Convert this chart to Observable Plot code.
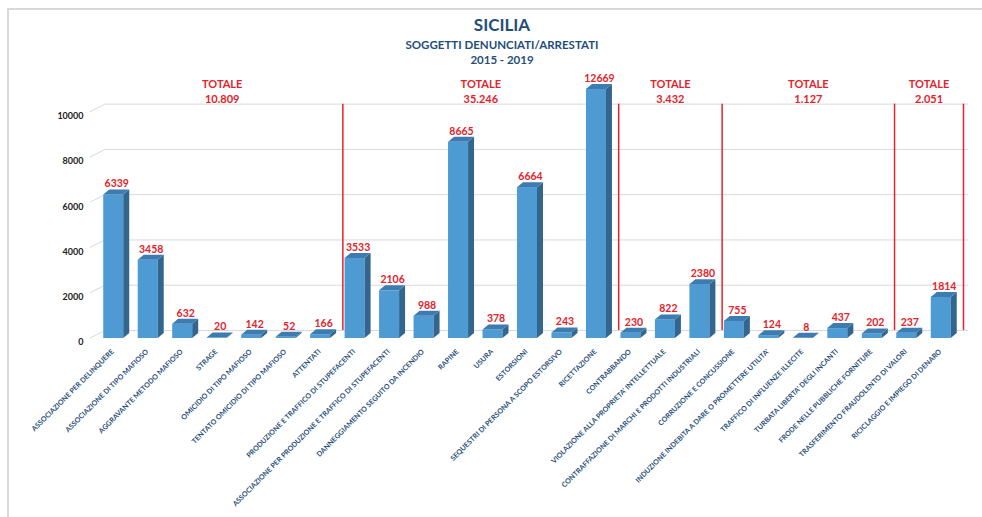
<!DOCTYPE html>
<html>
<head>
<meta charset="utf-8">
<script src="https://cdn.jsdelivr.net/npm/d3@7"></script>
<script src="https://cdn.jsdelivr.net/npm/@observablehq/plot@0.6"></script>
<style>
  body { margin: 0; background: #fff; font-family: Lato, "Open Sans", sans-serif; }
  #wrap { position: relative; width: 982px; height: 517px; overflow: hidden; }
  #frame { position: absolute; left: 7px; top: 8px; right: -5px; bottom: -5px; border-top: 2px solid #d9d9d9; border-left: 2px solid #d9d9d9; pointer-events: none; }
  #head { position: relative; height: 72px; color: #1f4e79; font-weight: bold; }
  #head div { position: absolute; left: 22px; right: 0; text-align: center; line-height: 1; }
  #t1 { top: 16px; font-size: 17px; }
  #t2 { top: 39px; font-size: 11.5px; }
  #t3 { top: 54px; font-size: 11.5px; }
</style>
</head>
<body>
<div id="wrap">
  <div id="head">
    <div id="t1">SICILIA</div>
    <div id="t2">SOGGETTI DENUNCIATI/ARRESTATI</div>
    <div id="t3">2015 - 2019</div>
  </div>
  <div id="chart"></div>
  <div id="frame"></div>
</div>
<script>
const categories = [
  "ASSOCIAZIONE PER DELINQUERE",
  "ASSOCIAZIONE DI TIPO MAFIOSO",
  "AGGRAVANTE METODO MAFIOSO",
  "STRAGE",
  "OMICIDIO DI TIPO MAFIOSO",
  "TENTATO OMICIDIO DI TIPO MAFIOSO",
  "ATTENTATI",
  "PRODUZIONE E TRAFFICO DI STUPEFACENTI",
  "ASSOCIAZIONE PER PRODUZIONE E TRAFFICO DI STUPEFACENTI",
  "DANNEGGIAMENTO SEGUITO DA INCENDIO",
  "RAPINE",
  "USURA",
  "ESTORSIONI",
  "SEQUESTRI DI PERSONA A SCOPO ESTORSIVO",
  "RICETTAZIONE",
  "CONTRABBANDO",
  "VIOLAZIONE ALLA PROPRIETA' INTELLETTUALE",
  "CONTRAFFAZIONE DI MARCHI E PRODOTTI INDUSTRIALI",
  "CORRUZIONE E CONCUSSIONE",
  "INDUZIONE INDEBITA A DARE O PROMETTERE UTILITA'",
  "TRAFFICO DI INFLUENZE ILLECITE",
  "TURBATA LIBERTA' DEGLI INCANTI",
  "FRODE NELLE PUBBLICHE FORNITURE",
  "TRASFERIMENTO FRAUDOLENTO DI VALORI",
  "RICICLAGGIO E IMPIEGO DI DENARO"
];
const values = [6339, 3458, 632, 20, 142, 52, 166, 3533, 2106, 988, 8665, 378, 6664, 243, 12669, 230, 822, 2380, 755, 124, 8, 437, 202, 237, 1814];
const groupSizes = [7, 8, 3, 5, 2];
const groupTotals = ["10.809", "35.246", "3.432", "1.127", "2.051"];
const yTicks = [0, 2000, 4000, 6000, 8000, 10000];
const yMax = 11000;

const data = categories.map((c, i) => ({i, c, v: values[i]}));
let start = 0;
const groups = groupSizes.map((n, k) => {
  const g = {first: start, last: start + n - 1, total: groupTotals[k]};
  start += n;
  return g;
});

const RED = "#e3232c";
const BLUE_FRONT = "#4e9ad3";
const BLUE_SIDE = "#33668e";
const BLUE_TOP = "#3d7cb0";
const HALF = 0.29;

function bars3d(index, scales, ch) {
  const g = d3.create("svg:g");
  const dx = 6, dy = 5;
  for (const i of index) {
    const X1 = ch.x1[i], X2 = ch.x2[i];
    const top = Math.min(ch.y1[i], ch.y2[i]);
    const bot = Math.max(ch.y1[i], ch.y2[i]);
    g.append("rect").attr("x", X1).attr("y", top).attr("width", X2 - X1).attr("height", Math.max(0, bot - top)).attr("fill", BLUE_FRONT);
    g.append("polygon").attr("points", `${X2},${top} ${X2 + dx},${top - dy} ${X2 + dx},${bot - dy} ${X2},${bot}`).attr("fill", BLUE_SIDE);
    g.append("polygon").attr("points", `${X1},${top} ${X1 + dx},${top - dy} ${X2 + dx},${top - dy} ${X2},${top}`).attr("fill", BLUE_TOP);
  }
  return g.node();
}

function stubs(index, {y}, values, {marginLeft}) {
  const g = d3.create("svg:g");
  for (const t of yTicks) {
    g.append("line").attr("x1", marginLeft - 6).attr("y1", y(t)).attr("x2", marginLeft + 10).attr("y2", y(t) - 8)
      .attr("stroke", "#d9d9d9").attr("stroke-width", 1);
  }
  return g.node();
}

const chart = Plot.plot({
  width: 982,
  height: 445,
  marginLeft: 96,
  marginRight: 24,
  marginTop: 17,
  marginBottom: 179,
  style: {fontFamily: "Lato, 'Open Sans', sans-serif", background: "#fff"},
  x: {type: "linear", domain: [-0.5, categories.length - 0.5]},
  y: {domain: [0, yMax], clamp: true},
  marks: [
    Plot.ruleY(yTicks, {stroke: "#d9d9d9", strokeWidth: 1, dx: 10, dy: -8}),
    stubs,
    Plot.ruleX(groups, {x: d => d.last + 0.5, y1: 0, y2: 10000, stroke: RED, strokeWidth: 1.5, dx: 5, dy: -8}),
    Plot.rect(data, {x1: d => d.i - HALF, x2: d => d.i + HALF, y1: 0, y2: "v", fill: BLUE_FRONT, render: bars3d}),
    Plot.text(data, {x: "i", y: "v", text: d => String(d.v), dy: -11, dx: 3, fill: RED, fontSize: 10.5, fontWeight: "bold"}),
    Plot.text(groups, {x: d => (d.first + d.last) / 2, frameAnchor: "top", text: d => "TOTALE\n" + d.total, lineAnchor: "middle", lineHeight: 1.35, dx: 5, dy: 1, fill: RED, fontSize: 11, fontWeight: "bold"}),
    Plot.axisY({ticks: yTicks, tickFormat: d => String(d), tickSize: 0, tickPadding: 13, dy: 4, fontSize: 9, fontWeight: "bold", color: "#222", label: null}),
    Plot.axisX({ticks: data.map(d => d.i), tickFormat: i => categories[i], tickRotate: -45, tickSize: 0, tickPadding: 12, dx: -1, fontSize: 7.1, fontWeight: "bold", color: "#1f4e79", label: null})
  ]
});
document.getElementById("chart").appendChild(chart);
</script>
</body>
</html>
